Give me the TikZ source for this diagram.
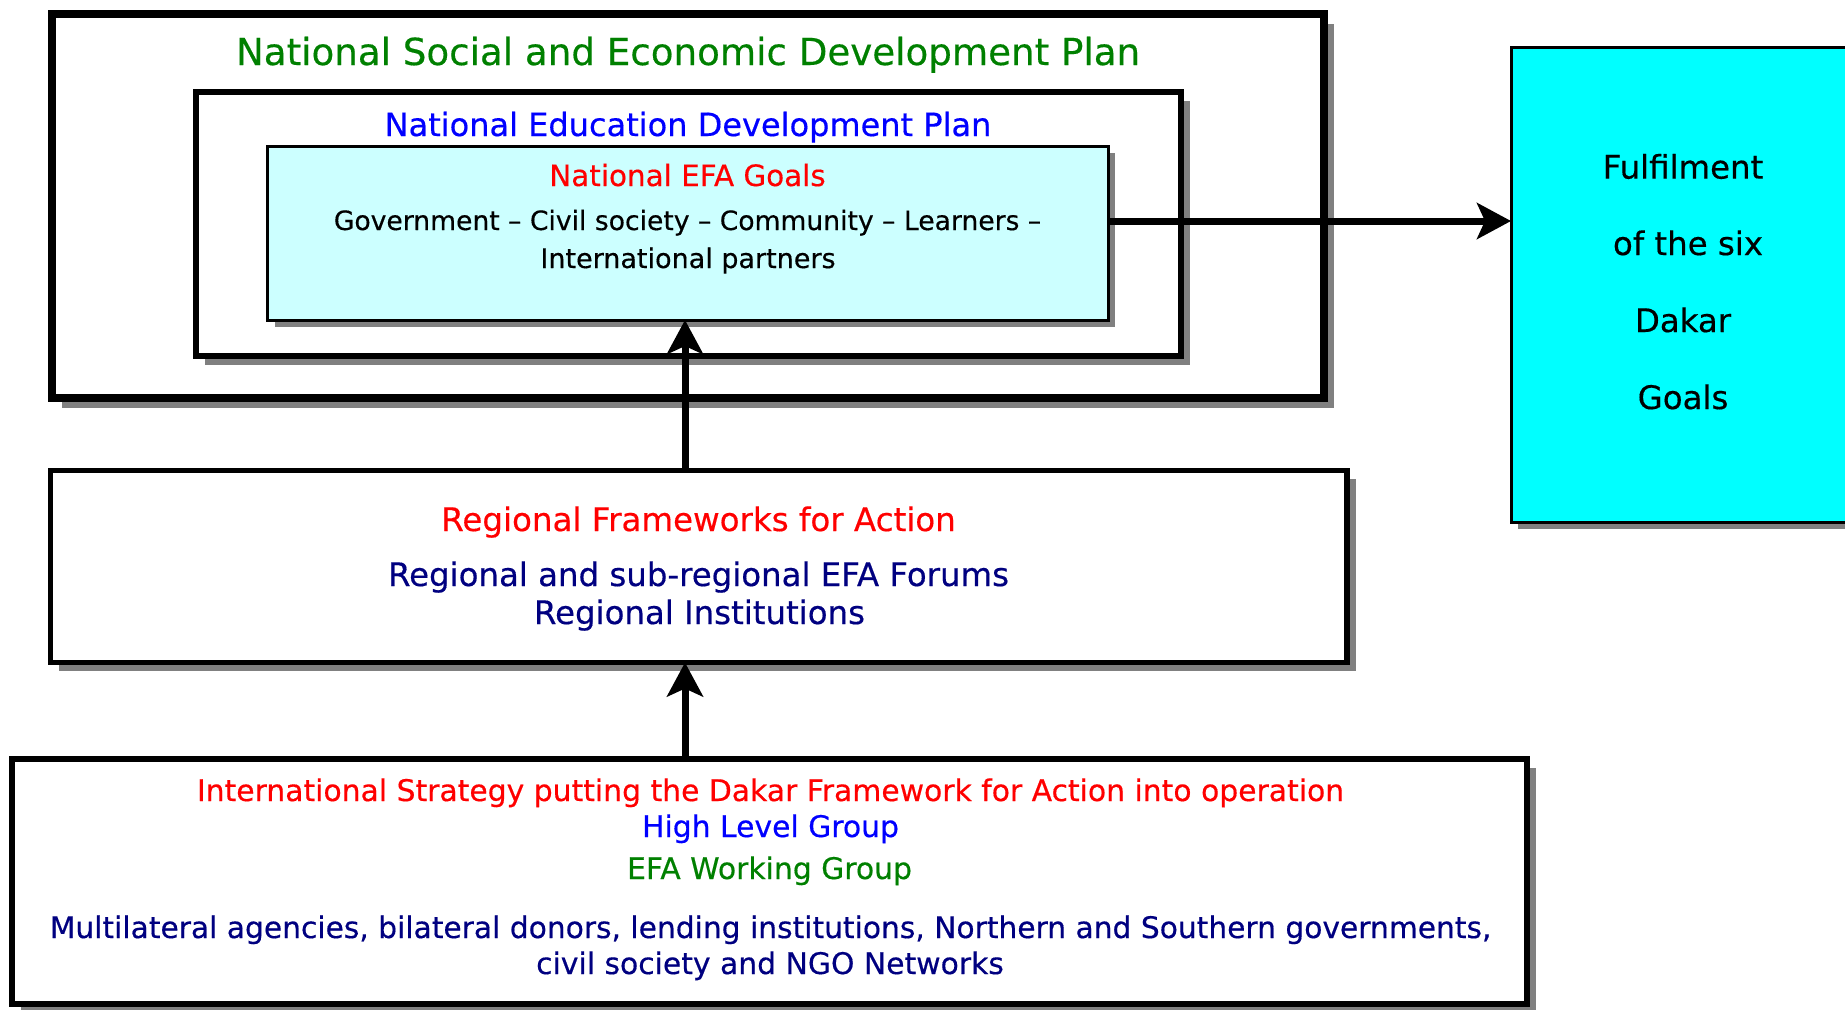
\documentclass[tikz,border=0pt]{standalone}
\usepackage{fontspec}
\setmainfont{DejaVu Sans}[FakeBold=0.4]
\usetikzlibrary{arrows.meta,shadows}
\definecolor{dgreen}{RGB}{0,128,0}
\definecolor{dblue}{RGB}{0,0,255}
\definecolor{dred}{RGB}{255,0,0}
\definecolor{dnavy}{RGB}{0,0,128}
\definecolor{dcyan}{RGB}{0,255,255}
\definecolor{lcyan}{RGB}{204,255,255}
\definecolor{sgray}{RGB}{128,128,128}
\newcommand{\fs}[1]{\fontsize{#1}{1.2\dimexpr #1\relax}\selectfont}
\tikzset{
  boxbase/.style={rectangle, draw=black, inner sep=0pt, outer sep=0pt},
  lbl/.style={anchor=base, inner sep=0pt, align=center},
  arr/.style={draw=black, line width=3.5pt, -{Stealth[length=17pt,width=18pt,inset=4pt]}},
}
\begin{document}
\begin{tikzpicture}[x=0.5pt, y=-0.5pt]
\clip (0,0) rectangle (1845,1009);
\fill[white] (0,0) rectangle (1845,1009);

% outer box
\node[boxbase, line width=4pt, fill=white, minimum width=636pt, minimum height=192pt,
  drop shadow={shadow xshift=5pt, shadow yshift=-5pt, fill=sgray, opacity=1}] (outer) at (688,206) {};
% inner box
\node[boxbase, line width=3pt, fill=white, minimum width=492.25pt, minimum height=132pt,
  drop shadow={shadow xshift=4.5pt, shadow yshift=-4.5pt, fill=sgray, opacity=1}] (inner) at (688.25,223.5) {};
% EFA box
\node[boxbase, line width=1.5pt, fill=lcyan, minimum width=420.25pt, minimum height=87pt,
  drop shadow={shadow xshift=3.6pt, shadow yshift=-3.6pt, fill=sgray, opacity=1}] (efa) at (687.75,233) {};
% regional box
\node[boxbase, line width=2.75pt, fill=white, minimum width=648.25pt, minimum height=96pt,
  drop shadow={shadow xshift=4.4pt, shadow yshift=-4.4pt, fill=sgray, opacity=1}] (regional) at (698.75,566.5) {};
% bottom box
\node[boxbase, line width=2.75pt, fill=white, minimum width=757.5pt, minimum height=122.5pt,
  drop shadow={shadow xshift=4.4pt, shadow yshift=-4.4pt, fill=sgray, opacity=1}] (intl) at (769.5,881.5) {};
% cyan goal box
\node[boxbase, line width=1.5pt, fill=dcyan, minimum width=194.5pt, minimum height=237.5pt,
  drop shadow={shadow xshift=3.6pt, shadow yshift=-3.6pt, fill=sgray, opacity=1}] (goal) at (1705.5,284.5) {};

% texts
\node[lbl, text=dgreen, font=\fs{18.6pt}] (t1) at (688,65) {National Social and Economic Development Plan};
\node[lbl, text=dblue, font=\fs{16pt}] (t2) at (688,136) {National Education Development Plan};
\node[lbl, text=dred, font=\fs{14.7pt}] (t3) at (687.5,186) {National EFA Goals};
\node[lbl, text=black, font=\fs{13.3pt}] (t4) at (687.5,230) {Government – Civil society – Community – Learners –};
\node[lbl, text=black, font=\fs{13.5pt}] (t5) at (688,268) {International partners};

\node[lbl, text=dred, font=\fs{16.25pt}] (r1) at (698.5,531) {Regional Frameworks for Action};
\node[lbl, text=dnavy, font=\fs{16.2pt}] (r2) at (698.5,586) {Regional and sub-regional EFA Forums};
\node[lbl, text=dnavy, font=\fs{16.2pt}] (r3) at (699.5,624) {Regional Institutions};

\node[lbl, text=dred, font=\fs{14.9pt}] (b1) at (770.5,801) {International Strategy putting the Dakar Framework for Action into operation};
\node[lbl, text=dblue, font=\fs{14.9pt}] (b2) at (770.5,837) {High Level Group};
\node[lbl, text=dgreen, font=\fs{14.9pt}] (b3) at (769.5,879) {EFA Working Group};
\node[lbl, text=dnavy, font=\fs{14.85pt}] (b4) at (770.5,938) {Multilateral agencies, bilateral donors, lending institutions, Northern and Southern governments,};
\node[lbl, text=dnavy, font=\fs{14.9pt}] (b5) at (770,974) {civil society and NGO Networks};

\node[lbl, text=black, font=\fs{16.2pt}] (g1) at (1683,178.6) {Fulfilment};
\node[lbl, text=black, font=\fs{16.2pt}] (g2) at (1688,255) {of the six};
\node[lbl, text=black, font=\fs{16.2pt}] (g3) at (1683,332) {Dakar};
\node[lbl, text=black, font=\fs{16.2pt}] (g4) at (1683,409) {Goals};

% arrows
\draw[arr] ([xshift=-6.875pt]regional.north) -- ([xshift=-6.875pt]regional.north |- efa.south);
\draw[arr] ([xshift=-42.25pt]intl.north) -- ([xshift=-42.25pt]intl.north |- regional.south);
\draw[arr] ([yshift=6pt]efa.east) -- ([yshift=6pt]efa.east -| goal.west);
\end{tikzpicture}
\end{document}
